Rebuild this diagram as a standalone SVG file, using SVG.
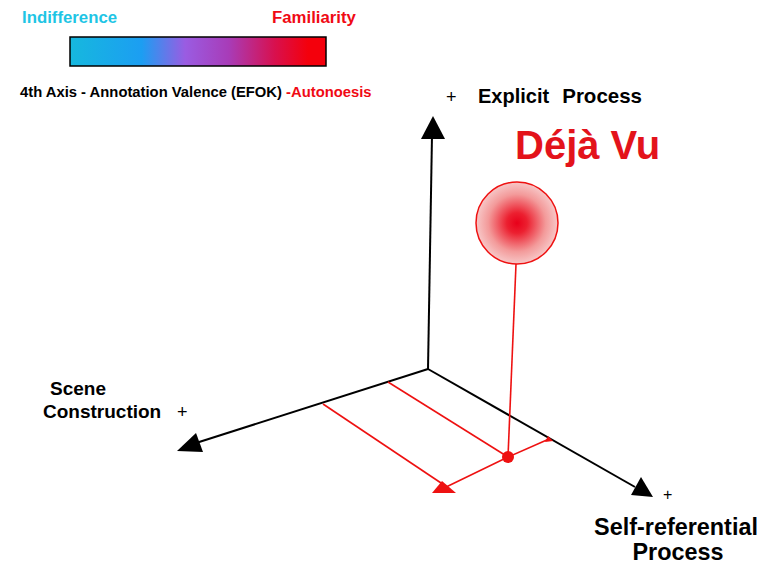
<svg xmlns="http://www.w3.org/2000/svg" width="764" height="570" viewBox="0 0 764 570">
<style>
.lbl{font-family:"Liberation Sans",Arial,sans-serif;font-weight:bold;fill:#000}
.pl{font-family:"Liberation Sans",Arial,sans-serif;font-weight:normal;fill:#000}
.ax{stroke:#000;stroke-width:2;fill:none}
.rl{stroke:#ee1111;stroke-width:1.6;fill:none}
</style>
<defs>
<linearGradient id="bar" x1="0" y1="0" x2="1" y2="0">
<stop offset="0" stop-color="#16b8de"/>
<stop offset="0.28" stop-color="#1c9ef2"/>
<stop offset="0.45" stop-color="#9a5ce2"/>
<stop offset="0.62" stop-color="#a83cb8"/>
<stop offset="0.8" stop-color="#d8104e"/>
<stop offset="0.93" stop-color="#f4000c"/>
<stop offset="1" stop-color="#f4000c"/>
</linearGradient>
<radialGradient id="blob" cx="0.5" cy="0.5" r="0.5">
<stop offset="0" stop-color="#e8001a"/>
<stop offset="0.25" stop-color="#ec2030"/>
<stop offset="0.7" stop-color="#f39a9a"/>
<stop offset="1" stop-color="#f7c8c8"/>
</radialGradient>
</defs>

<g id="legend">
<text class="lbl" x="22" y="23" font-size="16.8" style="fill:#1ec5e5">Indifference</text>
<text class="lbl" x="272" y="23" font-size="16.8" style="fill:#f00a14">Familiarity</text>
<rect x="70" y="37" width="256" height="29" fill="url(#bar)" stroke="#000" stroke-width="1.5"/>
<text class="lbl" x="20" y="97" font-size="14.8">4th Axis - Annotation Valence (EFOK) <tspan style="fill:#f00a14">-Autonoesis</tspan></text>
</g>

<g id="connectors">
<line class="ax" x1="428" y1="369" x2="432" y2="135"/>
<polygon points="433,116 421,139 445,139" fill="#000"/>
<line class="ax" x1="428" y1="369" x2="196" y2="443"/>
<polygon points="177,451 196,433 203,452" fill="#000"/>
<line class="ax" x1="428" y1="369" x2="635" y2="487"/>
<polygon points="653,497 631,495 641,477" fill="#000"/>

<line class="rl" x1="516" y1="264" x2="508" y2="457"/>
<line class="rl" x1="388" y1="382" x2="508" y2="457"/>
<line class="rl" x1="323" y1="404" x2="447" y2="487"/>
<line class="rl" x1="508" y1="457" x2="442" y2="489"/>
<line class="rl" x1="508" y1="457" x2="549" y2="439"/>
<polygon points="432,493 456,493 442,481" fill="#ee1111"/>
<polygon points="545,442 553,441 548,436" fill="#ee1111"/>
<circle cx="508" cy="457" r="6" fill="#ee1111"/>
</g>

<g id="deja-vu">
<text class="lbl" x="515" y="159" font-size="40" style="fill:#e3131b">Déjà Vu</text>
<circle cx="517" cy="223" r="41" fill="url(#blob)" stroke="#ee1111" stroke-width="1.5"/>
</g>

<g id="explicit">
<text class="pl" x="446" y="103" font-size="18">+</text>
<text class="lbl" x="478" y="103" font-size="20">Explicit</text>
<text class="lbl" x="642" y="103" font-size="20.5" text-anchor="end">Process</text>
</g>

<g id="scene">
<text class="lbl" x="78" y="395" font-size="19" text-anchor="middle">Scene</text>
<text class="lbl" x="43" y="418" font-size="19">Construction</text>
<text class="pl" x="177" y="418" font-size="18">+</text>
</g>

<g id="self">
<text class="pl" x="663" y="500" font-size="16">+</text>
<text class="lbl" x="676" y="535" font-size="23.4" text-anchor="middle">Self-referential</text>
<text class="lbl" x="678" y="560" font-size="23.4" text-anchor="middle">Process</text>
</g>
</svg>
